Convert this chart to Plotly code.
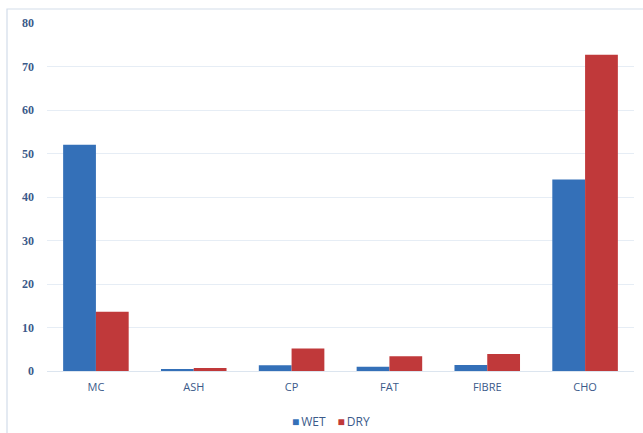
import plotly.graph_objects as go

categories = ["MC", "ASH", "CP", "FAT", "FIBRE", "CHO"]
wet = [52.0, 0.4, 1.3, 1.0, 1.4, 44.0]
dry = [13.6, 0.7, 5.2, 3.4, 3.9, 72.7]
y_ticks = [0, 10, 20, 30, 40, 50, 60, 70, 80]
series_names = ["WET", "DRY"]
series_colors = ["#3470b8", "#c0393a"]

fig = go.Figure()
for name, vals, col in zip(series_names, [wet, dry], series_colors):
    fig.add_trace(go.Bar(name=name, x=categories, y=vals, showlegend=False,
                         marker=dict(color=col, line=dict(width=0))))

legend_text = "\u2002\u2002".join(
    f"<span style='color:{c}'>■</span>\u2009{n}" for n, c in zip(series_names, series_colors))

fig.update_layout(
    width=643, height=433,
    margin=dict(l=47, r=9, t=23, b=62, autoexpand=False),
    paper_bgcolor="white", plot_bgcolor="white",
    barmode="group", bargap=0.33, bargroupgap=0,
    showlegend=False,
    xaxis=dict(showgrid=False, showline=False, ticks="", zeroline=False,
               tickfont=dict(family="Open Sans, Liberation Sans, sans-serif", size=11, color="#3b5a8a"),
               ticklabelstandoff=8),
    yaxis=dict(range=[0, 80], tickvals=y_ticks, showgrid=True, gridcolor="#e6edf5", gridwidth=1,
               zeroline=True, zerolinecolor="#dce5ef", zerolinewidth=1,
               showline=False, ticks="", tickfont=dict(family="Liberation Serif, serif", size=12, color="#3b5a8a", weight="bold"),
               ticklabelstandoff=12),
    annotations=[dict(xref="paper", yref="paper", x=(331 - 47) / 587, y=(371 - 421) / 348,
                      xanchor="center", yanchor="middle", showarrow=False, text=legend_text,
                      font=dict(family="Open Sans, Liberation Sans, sans-serif", size=12, color="#3b5a8a"))],
    shapes=[dict(type="rect", xref="paper", yref="paper",
                 x0=(7 - 47) / 587, x1=(660 - 47) / 587,
                 y0=(371 - 460) / 348, y1=(371 - 9) / 348,
                 line=dict(color="#d3ddea", width=1.2), fillcolor="rgba(0,0,0,0)", layer="below")],
)

fig.write_html("out.html")
